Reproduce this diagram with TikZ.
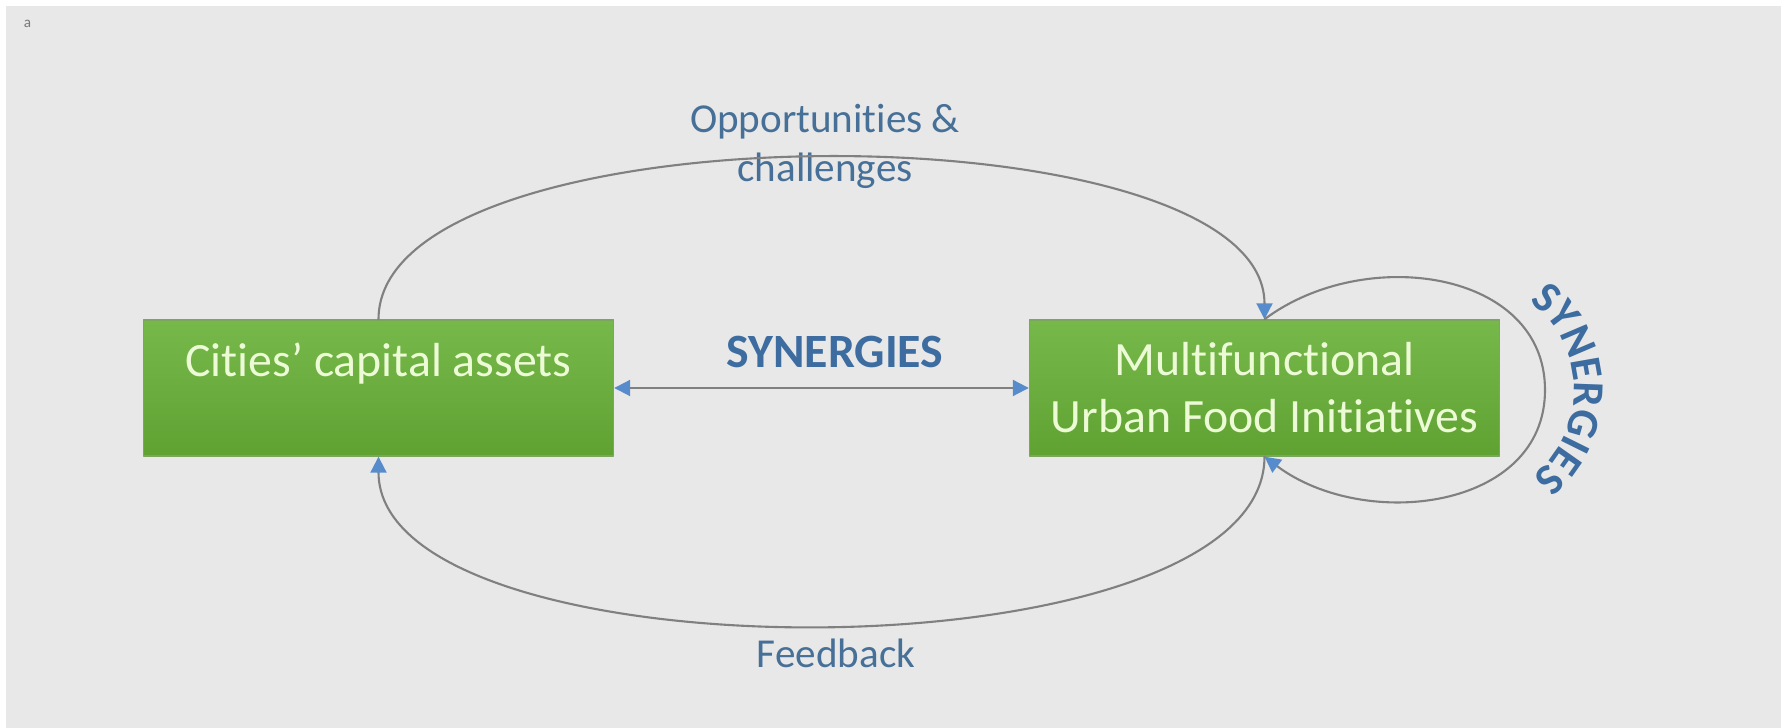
\documentclass[tikz,border=0pt]{standalone}
\usepackage{fontspec}
\setmainfont{Carlito}[Ligatures=NoCommon]
\usepackage{xcolor}
\usepackage{tikz}
\usetikzlibrary{arrows.meta}
\usetikzlibrary{decorations.text}
\definecolor{bggray}{RGB}{232,232,232}
\definecolor{boxtop}{RGB}{118,184,74}
\definecolor{boxbot}{RGB}{96,162,50}
\definecolor{boxedge}{RGB}{122,166,94}
\definecolor{boxtext}{RGB}{236,250,214}
\definecolor{linegray}{RGB}{128,128,128}
\definecolor{tipblue}{RGB}{86,140,204}
\definecolor{synblue}{RGB}{60,108,160}
\definecolor{lblblue}{RGB}{70,112,152}
\definecolor{agray}{RGB}{120,120,120}
\def \boxfont{\fontsize{13.6}{16.2}\selectfont}
\def \synfont{\fontsize{13.6}{16}\selectfont\bfseries}
\def \lblfont{\fontsize{11.7}{14.2}\selectfont}
\def \arcfont{\fontsize{12.6}{15}\selectfont\bfseries\color{synblue}}
\begin{document}
\begin{tikzpicture}[line cap=round,line join=round,>={Triangle[length=1.6mm,width=1.6mm,color=tipblue]},x=1.0cm,y=1.0cm,
  greenbox/.style={draw=boxedge,top color=boxtop,bottom color=boxbot,minimum width=4.7cm,minimum height=1.36cm,inner sep=0pt,align=center,text=boxtext,font=\boxfont},
  link/.style={draw=linegray,line width=0.6pt}]
\useasboundingbox (0,0) rectangle (17.81,7.28);
\fill[bggray] (0.06,0) rectangle (17.81,7.22);
\node[text=agray,font=\fontsize{4.3}{5}\selectfont] (tag) at (0.275,7.045) {a};
% the two boxes
\node[greenbox] (cities) at (3.785,3.40) {Cities’ capital assets\\~};
\node[greenbox] (mufi) at (12.645,3.40) {Multifunctional\\Urban Food Initiatives};
% labels
\node[font=\synfont,text=synblue,anchor=base] (syn) at (8.35,3.60) {SYNERGIES};
\node[font=\lblfont,text=lblblue,align=center,anchor=base] (opp) at (8.25,5.46) {Opportunities \&\\challenges};
\node[font=\lblfont,text=lblblue,anchor=base] (fb) at (8.36,0.60) {Feedback};
\coordinate (loopR) at (15.45,3.38);
% connectors
\draw[link,<->] (cities.east) -- (mufi.west);
\draw[link,->] (cities.north) .. controls +(0,2.15) and +(0,2.15) .. (mufi.north);
\draw[link,->] (mufi.south) .. controls +(0,-2.25) and +(0,-2.25) .. (cities.south);
\draw[link,->] (mufi.north) .. controls +(1,0.75) and +(0,1.2) .. (loopR) .. controls +(0,-1.2) and +(1,-0.75) .. (mufi.south);
\path[decorate,decoration={text along path,text align=center,text={|\arcfont|SYNERGIES}}] (14.64,3.38) ++(101:1.10) arc[start angle=101,end angle=-99,radius=1.10];
\end{tikzpicture}
\end{document}
